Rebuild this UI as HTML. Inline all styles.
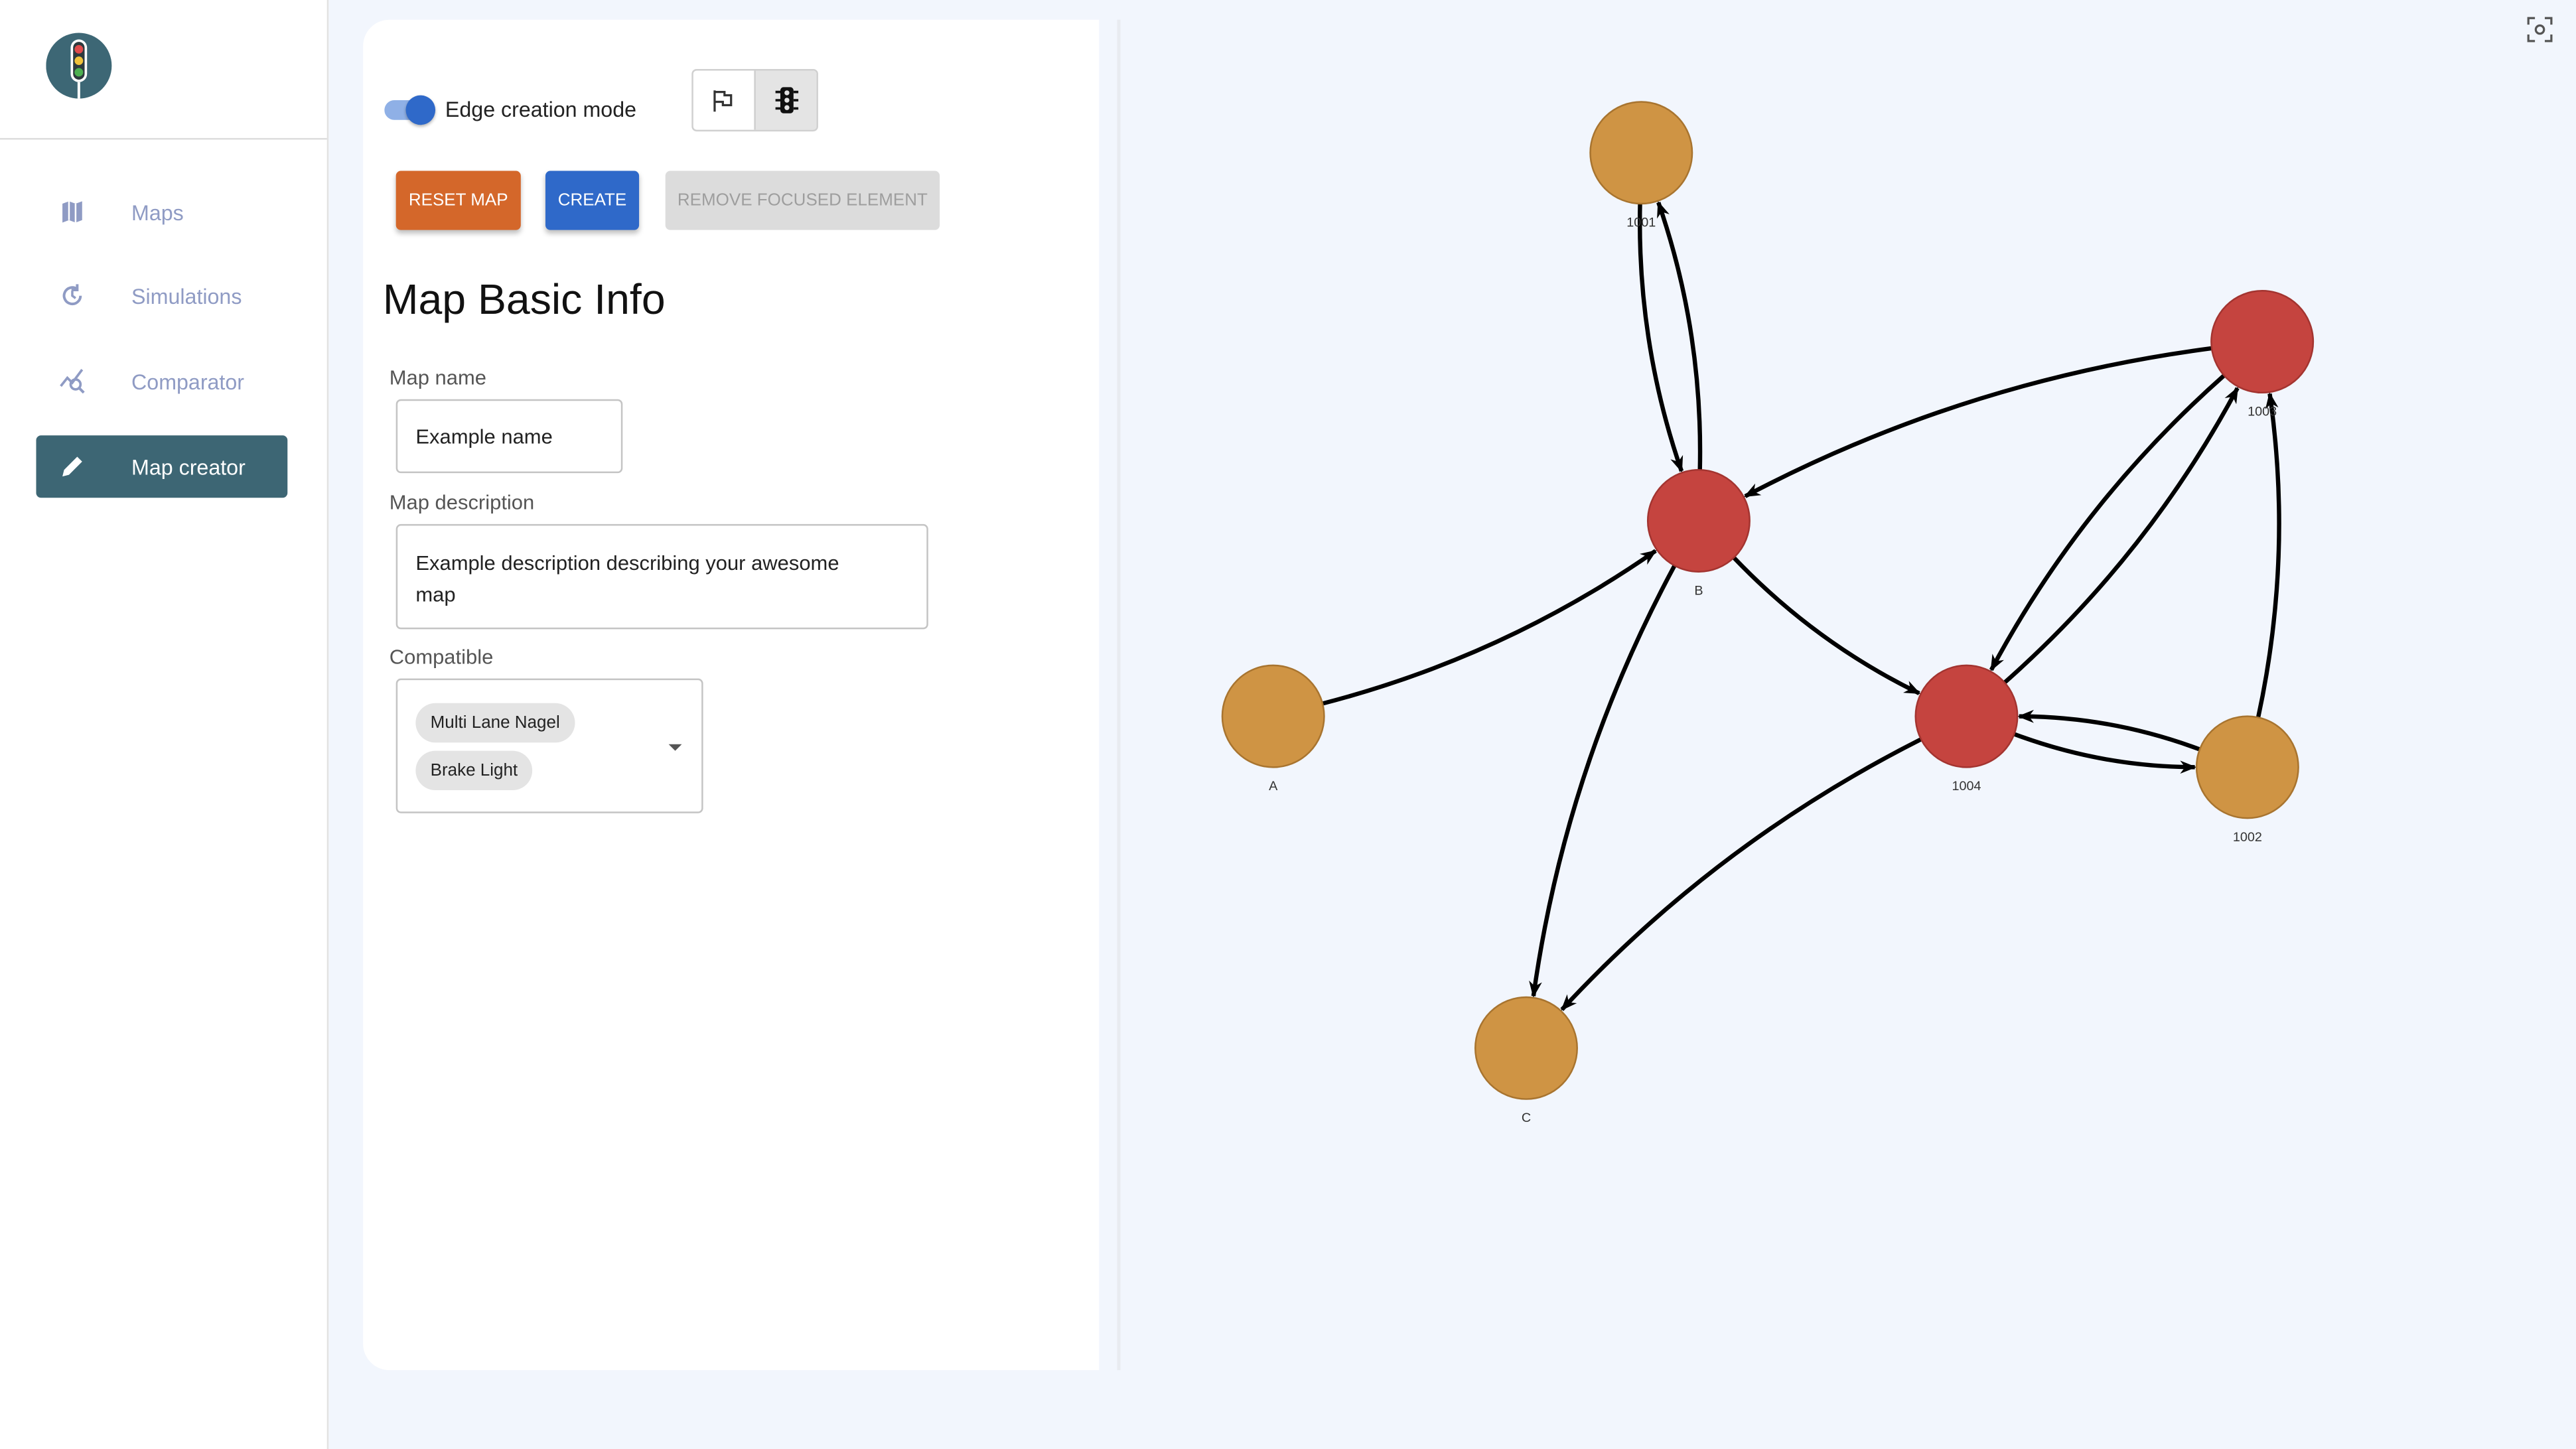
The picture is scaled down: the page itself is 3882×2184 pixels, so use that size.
<!DOCTYPE html>
<html><head><meta charset="utf-8"><style>
html,body{margin:0;padding:0;width:3882px;height:2184px;overflow:hidden;background:#f2f6fd}
#wrap{position:absolute;left:0;top:0;width:1568px;height:882px;transform:scale(2.47577,2.47619);transform-origin:0 0;font-family:"Liberation Sans",sans-serif;background:#f2f6fd}
.abs{position:absolute}
.nav{position:absolute;left:22px;width:153px;height:38px;border-radius:3px;font-size:13px;color:#8f9bc4}
.nav span{position:absolute;left:58px;top:12px}
.nav svg{position:absolute;left:14px;top:11px}
.btn{position:absolute;top:104px;height:36px;font-size:10.5px;line-height:36px;text-align:center;border-radius:3px;box-shadow:0 2px 3px rgba(0,0,0,.25)}
.lbl{position:absolute;left:237px;font-size:12.5px;color:#555}
.inp{position:absolute;border:1px solid #c4c4c4;border-radius:3px;background:#fff;font-size:12.5px;color:#222}
.chip{position:absolute;left:11px;height:24px;line-height:24px;border-radius:12px;background:#e4e4e4;font-size:10.5px;padding:0 9px;color:#222}
</style></head><body>
<div id="wrap">
<div class="abs" style="left:0;top:0;width:199px;height:882px;background:#fff;border-right:1px solid #e2e2e2"></div>
<svg class="abs" style="left:28px;top:20px" width="42" height="42" viewBox="0 0 42 42"><circle cx="20" cy="20" r="20" fill="#3d6775"/><rect x="15" y="4" width="10" height="26" rx="5" fill="#fff"/><rect x="16.5" y="5.5" width="7" height="23" rx="3.5" fill="#2d3a3e"/><circle cx="20" cy="10" r="2.6" fill="#e04b4b"/><circle cx="20" cy="17" r="2.6" fill="#f0c23a"/><circle cx="20" cy="24" r="2.6" fill="#4cb050"/><rect x="19.2" y="30" width="1.6" height="10" fill="#fff"/></svg>
<div class="abs" style="left:0;top:84px;width:199px;height:1px;background:#ddd"></div>
<div class="nav" style="top:110px"><svg width="16" height="16" viewBox="0 0 16 16"><path d="M2 3l4-1.5 4 1.5 4-1.5v11.5l-4 1.5-4-1.5-4 1.5z" fill="#8f9bc4"/><path d="M6 1.5v11.5M10 3v11.5" stroke="#fff" stroke-width="1"/></svg><span>Maps</span></div>
<div class="nav" style="top:161px"><svg width="16" height="16" viewBox="0 0 16 16"><path d="M13 8a5 5 0 1 1-2-4" fill="none" stroke="#8f9bc4" stroke-width="1.6"/><path d="M11 1v3.5h-3.5" fill="none" stroke="#8f9bc4" stroke-width="1.6"/><path d="M8 5v3l2 1.5" fill="none" stroke="#8f9bc4" stroke-width="1.4"/></svg><span>Simulations</span></div>
<div class="nav" style="top:213px"><svg width="18" height="16" viewBox="0 0 18 16"><path d="M1 11l4-5 3 3 6-8" fill="none" stroke="#8f9bc4" stroke-width="1.5"/><circle cx="10" cy="10" r="3" fill="none" stroke="#8f9bc4" stroke-width="1.5"/><path d="M12 12l3 3" stroke="#8f9bc4" stroke-width="1.6"/></svg><span>Comparator</span></div>
<div class="nav" style="top:265px;background:#3d6674;color:#fff"><svg width="16" height="16" viewBox="0 0 16 16"><path d="M2 14l1-4 8-8 3 3-8 8z" fill="#fff"/></svg><span>Map creator</span></div>

<div class="abs" style="left:221px;top:12px;width:448px;height:822px;background:#fff;border-radius:16px 0 0 16px"></div>
<div class="abs" style="left:680px;top:12px;width:2px;height:822px;background:#e8ebf0"></div>
<div class="abs" style="left:234px;top:61px;width:30px;height:12px;border-radius:6px;background:#8fb0e6"><div style="position:absolute;left:13px;top:-3px;width:18px;height:18px;border-radius:9px;background:#2f69c9;box-shadow:0 1px 2px rgba(0,0,0,.3)"></div></div>
<div class="abs" style="left:271px;top:59px;font-size:13px;color:#222">Edge creation mode</div>
<div class="abs" style="left:421px;top:42px;width:75px;height:36px;border:1px solid #d0d0d0;border-radius:3px;background:#fff;overflow:hidden">
<div style="position:absolute;left:0;top:0;width:37px;height:36px"><svg style="position:absolute;left:11px;top:11px" width="14" height="14" viewBox="0 0 14 14"><path d="M2 1v13M2 2h6v2h4v6h-5v-2h-5" fill="none" stroke="#333" stroke-width="1.3"/></svg></div>
<div style="position:absolute;left:37px;top:0;width:38px;height:36px;background:#e4e4e4;border-left:1px solid #d0d0d0"><svg style="position:absolute;left:12px;top:10px" width="14" height="16" viewBox="0 0 14 16"><rect x="3" y="0" width="8" height="16" rx="2" fill="#111"/><path d="M0 3h3M0 8h3M0 13h3M11 3h3M11 8h3M11 13h3" stroke="#111" stroke-width="1.5"/><circle cx="7" cy="3.5" r="1.5" fill="#e4e4e4"/><circle cx="7" cy="8" r="1.5" fill="#e4e4e4"/><circle cx="7" cy="12.5" r="1.5" fill="#e4e4e4"/></svg></div>
</div>
<div class="btn" style="left:241px;width:76px;background:#d4672a;color:#fff">RESET MAP</div>
<div class="btn" style="left:332px;width:57px;background:#2f69c9;color:#fff">CREATE</div>
<div class="btn" style="left:405px;width:167px;background:#dcdcdc;color:#9e9e9e;box-shadow:none">REMOVE FOCUSED ELEMENT</div>
<div class="abs" style="left:233px;top:167px;font-size:26px;color:#111">Map Basic Info</div>
<div class="lbl" style="top:223px">Map name</div>
<div class="inp" style="left:241px;top:243px;width:136px;height:43px"><span style="position:absolute;left:11px;top:15px">Example name</span></div>
<div class="lbl" style="top:299px">Map description</div>
<div class="inp" style="left:241px;top:319px;width:322px;height:62px"><div style="position:absolute;left:11px;top:14px;width:285px;line-height:19px">Example description describing your awesome map</div></div>
<div class="lbl" style="top:393px">Compatible</div>
<div class="inp" style="left:241px;top:413px;width:185px;height:80px">
<div class="chip" style="top:14px">Multi Lane Nagel</div>
<div class="chip" style="top:43px">Brake Light</div>
<div style="position:absolute;left:165px;top:39px;width:0;height:0;border-left:4px solid transparent;border-right:4px solid transparent;border-top:4px solid #555"></div>
</div>
<svg class="abs" style="left:1538px;top:10px" width="16" height="16" viewBox="0 0 16 16"><path d="M1 5V1h4M11 1h4v4M15 11v4h-4M5 15H1v-4" fill="none" stroke="#555" stroke-width="1.3"/><circle cx="8" cy="8" r="2.5" fill="none" stroke="#555" stroke-width="1.3"/></svg>
<svg id="graph" class="abs" style="left:0;top:0" width="1568" height="882"></svg>
</div>
<script>
const nodeNames=["1001","1003","B","A","1004","1002","C"];
const nodeX=[999,1377,1034,775,1197,1368,929];
const nodeY=[93,208,317,436,436,467,638];
const nodeKind=["o","r","r","o","r","o","o"];
const edgeFrom=["1001","B","1003","A","B","B","1004","1003","1004","1002","1004","1002"];
const edgeTo=["B","1001","B","B","1004","C","C","1004","1003","1003","1002","1004"];
const R=31,NS="http://www.w3.org/2000/svg";
const g=document.getElementById('graph');
const defs=document.createElementNS(NS,'defs');
defs.innerHTML='<marker id="ah" markerWidth="10" markerHeight="8" refX="9" refY="4" orient="auto" markerUnits="userSpaceOnUse"><path d="M0,0 L10,4 L0,8 L3,4 z" fill="#000"/></marker>';
g.appendChild(defs);
function idx(n){return nodeNames.indexOf(n);}
for(let i=0;i<edgeFrom.length;i++){
 const a=idx(edgeFrom[i]),b=idx(edgeTo[i]);
 const x1=nodeX[a],y1=nodeY[a],x2=nodeX[b],y2=nodeY[b];
 const dx=x2-x1,dy=y2-y1,L=Math.hypot(dx,dy);
 const cx=(x1+x2)/2-dy/L*L*0.09,cy=(y1+y2)/2+dx/L*L*0.09;
 const s1=Math.hypot(cx-x1,cy-y1),s2=Math.hypot(x2-cx,y2-cy);
 const sx=x1+(cx-x1)/s1*R,sy=y1+(cy-y1)/s1*R;
 const ex=x2-(x2-cx)/s2*(R+1),ey=y2-(y2-cy)/s2*(R+1);
 const p=document.createElementNS(NS,'path');
 
 
 p.setAttribute('d',`M${sx},${sy} Q${cx},${cy} ${ex},${ey}`);
 p.setAttribute('fill','none');p.setAttribute('stroke','#000');p.setAttribute('stroke-width','2.6');
 p.setAttribute('marker-end','url(#ah)');
 g.appendChild(p);
}
for(let i=0;i<nodeNames.length;i++){
 const c=document.createElementNS(NS,'circle');
 
 
 c.setAttribute('cx',nodeX[i]);c.setAttribute('cy',nodeY[i]);c.setAttribute('r',R);
 c.setAttribute('fill',nodeKind[i]==='r'?'#c5443f':'#cf9444');
 c.setAttribute('stroke',nodeKind[i]==='r'?'#a33430':'#a8742f');c.setAttribute('stroke-width','1');
 g.appendChild(c);
 const t=document.createElementNS(NS,'text');
 
 
 t.setAttribute('x',nodeX[i]);t.setAttribute('y',nodeY[i]+45);
 t.setAttribute('text-anchor','middle');t.setAttribute('font-size','8');t.setAttribute('fill','#333');
 t.setAttribute('font-family','Liberation Sans, sans-serif');
 t.textContent=nodeNames[i];
 g.appendChild(t);
}
</script>
</body></html>
